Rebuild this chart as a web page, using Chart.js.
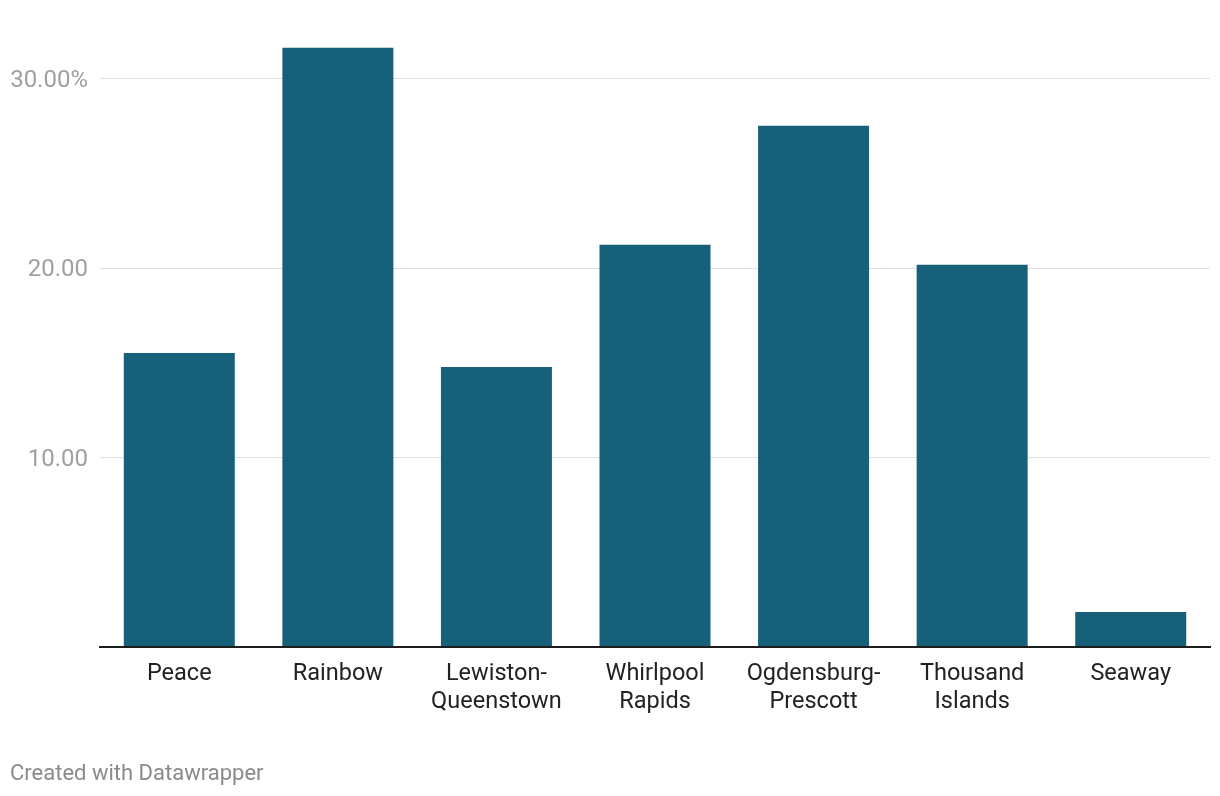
<!DOCTYPE html>
<html>
<head>
<meta charset="utf-8">
<script src="https://cdn.jsdelivr.net/npm/chart.js@4"></script>
<style>
  html, body { margin: 0; padding: 0; background: #ffffff; }
  #wrap { position: relative; width: 1220px; height: 796px; }
</style>
</head>
<body>
<div id="wrap"><canvas id="c" width="1220" height="796"></canvas></div>
<script>
const categories = [
  "Peace",
  "Rainbow",
  ["Lewiston-", "Queenstown"],
  ["Whirlpool", "Rapids"],
  ["Ogdensburg-", "Prescott"],
  ["Thousand", "Islands"],
  "Seaway"
];
const shareValues = [15.53, 31.64, 14.79, 21.24, 27.52, 20.18, 1.85];
const yTickValues = [10, 20, 30];
const yTickLabels = ["10.00", "20.00", "30.00%"];
const footerText = "Created with Datawrapper";

const footerPlugin = {
  id: 'footer',
  afterDraw(chart) {
    const ctx = chart.ctx;
    ctx.save();
    ctx.font = '400 22px Roboto';
    ctx.fillStyle = '#8a8a8a';
    ctx.textAlign = 'left';
    ctx.textBaseline = 'alphabetic';
    ctx.fillText(footerText, 10, 780);
    ctx.restore();
  }
};

new Chart(document.getElementById('c'), {
  type: 'bar',
  data: {
    labels: categories,
    datasets: [{
      data: shareValues,
      backgroundColor: '#17607a',
      borderWidth: 0,
      barPercentage: 0.7,
      categoryPercentage: 1.0
    }]
  },
  options: {
    responsive: false,
    animation: false,
    devicePixelRatio: 1,
    layout: { padding: { top: 41, right: 10, left: 0, bottom: 0 } },
    plugins: {
      legend: { display: false },
      tooltip: { enabled: false }
    },
    scales: {
      x: {
        grid: { display: false, drawTicks: false },
        border: { display: true, color: '#1d1d1d', width: 2, z: 1 },
        ticks: {
          color: '#222222',
          font: { family: 'Roboto', size: 23.5, lineHeight: 1.2 },
          padding: 13,
          maxRotation: 0,
          autoSkip: false
        },
        afterFit(scale) { scale.height = 149; }
      },
      y: {
        min: 0,
        max: 32,
        afterBuildTicks(scale) {
          scale.ticks = [0].concat(yTickValues).map(v => ({ value: v }));
        },
        grid: {
          drawTicks: false,
          color(ctx) { return ctx.tick && ctx.tick.value === 0 ? 'rgba(0,0,0,0)' : '#e0e0e0'; },
          lineWidth: 1
        },
        border: { display: false },
        ticks: {
          color: '#a0a0a0',
          font: { family: 'Roboto', size: 24 },
          padding: 12,
          labelOffset: 2,
          callback(value) {
            const i = yTickValues.indexOf(value);
            return i >= 0 ? yTickLabels[i] : '';
          }
        },
        afterFit(scale) { scale.width = 100; }
      }
    }
  },
  plugins: [footerPlugin]
});
</script>
</body>
</html>
